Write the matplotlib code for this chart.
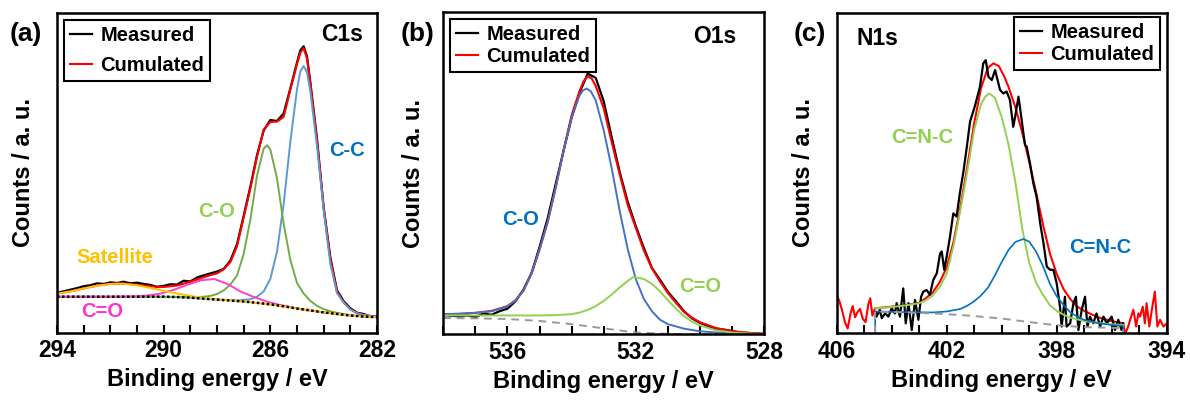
import numpy as np
import matplotlib
matplotlib.use('Agg')
from matplotlib import pyplot as plt
from matplotlib.ticker import MultipleLocator

plt.rcParams['font.family'] = ['Liberation Sans', 'DejaVu Sans']
plt.rcParams['font.weight'] = 'bold'
plt.rcParams['axes.labelweight'] = 'bold'

# ---------------- (a) C1s ----------------
c1s_meas_ev = [294.0, 293.75, 293.5, 293.25, 293.0, 292.75, 292.5, 292.25, 292.0, 291.75,
               291.5, 291.25, 291.0, 290.75, 290.5, 290.25, 290.0, 289.75, 289.5, 289.25,
               289.0, 288.75, 288.5, 288.25, 288.0, 287.75, 287.5, 287.25, 287.0, 286.75,
               286.5, 286.25, 286.0, 285.75, 285.5, 285.25, 285.0, 284.875, 284.75, 284.625,
               284.5, 284.25, 284.0, 283.75, 283.5, 283.25, 283.0, 282.75, 282.5, 282.25, 282.0]
c1s_meas = [12.4, 12.9, 13.4, 13.9, 14.5, 14.8, 15.4, 15.2, 15.7, 15.5,
            15.9, 15.4, 15.6, 15.2, 14.9, 14.3, 14.6, 15.1, 15.0, 16.2,
            16.0, 17.2, 17.9, 18.5, 19.1, 19.9, 22.5, 27.6, 36.5, 45.6,
            55.5, 63.2, 66.5, 66.2, 68.6, 76.4, 84.5, 88.3, 89.6, 86.4,
            78.3, 60.6, 39.0, 23.5, 13.2, 9.8, 7.6, 6.2, 5.8, 5.0, 5.0]

c1s_fit_ev = [294.0, 293.5, 293.0, 292.5, 292.0, 291.5, 291.0, 290.5, 290.0, 289.5,
              289.0, 288.75, 288.5, 288.25, 288.0, 287.75, 287.5, 287.25, 287.0, 286.75,
              286.5, 286.25, 286.0, 285.75, 285.5, 285.25, 285.0, 284.875, 284.75, 284.625,
              284.5, 284.25, 284.0, 283.75, 283.5, 283.25, 283.0, 282.75, 282.5, 282.25, 282.0]
c1s_cum = [12.2, 12.9, 13.8, 14.7, 15.25, 15.35, 14.95, 14.45, 14.25, 14.7,
           15.9, 16.6, 17.3, 17.95, 18.5, 19.8, 22.0, 27.0, 36.0, 45.0,
           55.0, 63.5, 65.9, 66.0, 67.5, 76.0, 84.0, 87.6, 89.0, 85.8,
           78.0, 60.0, 39.3, 23.0, 12.8, 9.5, 7.3, 6.1, 5.5, 5.2, 4.95]

c1s_bg_ev = [294.0, 293.0, 292.0, 291.0, 290.0, 289.5, 289.0, 288.5, 288.0, 287.5, 287.0,
             286.5, 286.0, 285.5, 285.0, 284.5, 284.0, 283.5, 283.0, 282.5, 282.0]
c1s_bg = [11.2, 11.2, 11.2, 11.2, 11.2, 11.1, 10.9, 10.6, 10.3, 10.0, 9.7,
          9.3, 8.8, 8.2, 7.5, 6.9, 6.3, 5.8, 5.3, 5.0, 4.8]

cc_ev = [294.0, 290.0, 289.0, 288.5, 287.75, 287.25, 286.75, 286.5, 286.25, 286.0,
         285.75, 285.5, 285.25, 285.0, 284.875, 284.75, 284.625, 284.5, 284.25, 284.0,
         283.75, 283.5, 283.25, 283.0, 282.75, 282.5, 282.25, 282.0]
cc = [11.2, 11.2, 10.9, 10.6, 10.2, 10.05, 10.4, 11.2, 12.85, 16.8,
      25.3, 40.2, 59.65, 76.1, 81.75, 83.4, 81.45, 75.5, 58.4, 38.3,
      21.5, 12.3, 9.35, 7.2, 6.05, 5.5, 5.2, 4.95]

co_ev = [294.0, 290.0, 289.25, 288.75, 288.5, 288.25, 288.0, 287.75, 287.5, 287.25,
         287.0, 286.75, 286.5, 286.25, 286.125, 286.0, 285.75, 285.5, 285.25, 285.0,
         284.75, 284.5, 284.25, 284.0, 283.75, 283.5, 283.0, 282.5, 282.0]
co = [11.2, 11.2, 11.15, 11.1, 11.2, 11.45, 12.05, 13.15, 15.0, 17.85,
      24.6, 35.3, 49.1, 57.55, 58.6, 57.3, 48.3, 34.0, 22.75, 15.5,
      12.2, 9.9, 8.35, 7.3, 6.65, 6.15, 5.45, 5.0, 4.8]

cdo_ev = [294.0, 292.0, 291.6, 291.1, 290.6, 290.1, 289.6, 289.1, 288.6, 288.1,
          287.6, 287.1, 286.6, 286.1, 285.6, 285.1, 284.5, 284.0, 283.0, 282.0]
cdo = [11.2, 11.2, 11.23, 11.31, 11.57, 12.22, 13.42, 14.98, 16.35, 16.75,
       15.17, 12.75, 11.06, 9.6, 8.56, 7.68, 6.9, 6.3, 5.3, 4.8]

sat_ev = [294.0, 293.5, 293.0, 292.5, 292.0, 291.7, 291.5, 291.0, 290.5, 290.0, 289.5,
          289.0, 288.5, 288.0, 287.5, 287.0, 286.0, 285.0, 284.0, 283.0, 282.0]
sat = [12.16, 12.88, 13.78, 14.64, 15.2, 15.3, 15.25, 14.78, 13.96, 13.06, 12.19,
       11.46, 10.85, 10.4, 10.03, 9.7, 8.8, 7.5, 6.3, 5.3, 4.8]

# ---------------- (b) O1s ----------------
o1s_meas_ev = [538.0, 537.75, 537.5, 537.25, 537.0, 536.75, 536.5, 536.25, 536.0, 535.75,
               535.5, 535.25, 535.0, 534.75, 534.5, 534.25, 534.0, 533.75, 533.5, 533.25,
               533.0, 532.75, 532.5, 532.25, 532.0, 531.75, 531.5, 531.25, 531.0, 530.75,
               530.5, 530.25, 530.0, 529.75, 529.5, 529.25, 529.0, 528.75, 528.5, 528.25, 528.0]
o1s_meas = [6.0, 5.8, 5.6, 5.9, 5.4, 6.5, 6.1, 7.2, 8.0, 10.3,
            13.9, 19.0, 27.1, 35.9, 46.5, 57.0, 67.2, 75.0, 80.8, 79.5,
            72.2, 61.0, 50.2, 41.0, 33.5, 26.8, 20.6, 17.0, 13.2, 10.3,
            7.2, 5.0, 3.6, 2.6, 1.8, 1.5, 1.1, 0.6, 0.5, 0.3, 0.2]

o1s_fit_ev = [538.0, 537.5, 537.0, 536.5, 536.0, 535.75, 535.5, 535.25, 535.0, 534.75,
              534.5, 534.25, 534.0, 533.75, 533.625, 533.5, 533.375, 533.25, 533.0, 532.75,
              532.5, 532.25, 532.0, 531.75, 531.5, 531.25, 531.0, 530.75, 530.5, 530.25,
              530.0, 529.5, 529.0, 528.5, 528.0]
o1s_cum = [6.3, 6.4, 6.7, 7.3, 8.8, 10.6, 13.7, 19.0, 26.4, 34.8,
           45.4, 57.1, 68.0, 75.5, 78.5, 80.0, 79.3, 77.0, 70.0, 59.5,
           49.5, 40.0, 33.0, 26.0, 20.5, 16.5, 12.8, 9.8, 7.0, 5.2,
           3.8, 2.0, 1.0, 0.5, 0.2]

o1s_co_ev = [538.0, 537.5, 537.0, 536.5, 536.0, 535.75, 535.5, 535.25, 535.0, 534.75,
             534.5, 534.25, 534.0, 533.75, 533.65, 533.53, 533.4, 533.25, 533.0, 532.75,
             532.5, 532.25, 532.0, 531.75, 531.5, 531.25, 531.0, 530.5, 530.0, 529.5,
             529.0, 528.5, 528.0]
o1s_co = [6.3, 6.4, 6.7, 7.2, 8.7, 10.5, 13.6, 18.9, 26.3, 34.7,
          45.3, 56.9, 67.3, 74.1, 75.6, 76.2, 75.3, 72.5, 63.2, 51.4,
          38.1, 26.3, 17.1, 11.0, 7.2, 4.6, 3.2, 1.8, 1.0, 0.6,
          0.35, 0.2, 0.1]

o1s_cdo_ev = [538.0, 537.0, 536.0, 535.0, 534.5, 534.0, 533.75, 533.5, 533.25, 533.0,
              532.75, 532.5, 532.25, 532.08, 531.75, 531.5, 531.25, 531.0, 530.75, 530.5,
              530.25, 530.0, 529.5, 529.0, 528.5, 528.0]
o1s_cdo = [5.9, 5.9, 5.9, 5.9, 6.0, 6.3, 6.8, 7.6, 8.8, 10.4,
           12.4, 14.6, 16.6, 17.8, 17.2, 15.7, 13.4, 10.6, 8.0, 5.7,
           4.0, 2.8, 1.3, 0.6, 0.3, 0.1]

o1s_bg_ev = [538.0, 537.0, 536.0, 535.0, 534.0, 533.0, 532.0, 531.0, 530.0, 529.0, 528.0]
o1s_bg = [5.1, 5.0, 4.8, 4.2, 3.2, 1.9, 0.6, 0.2, 0.0, 0.0, 0.0]

# ---------------- (c) N1s ----------------
n1s_meas_ev = [404.57, 404.55, 404.43, 404.36, 404.24, 404.12, 404.0, 403.88, 403.82, 403.7,
               403.58, 403.49, 403.39, 403.27, 403.15, 403.03, 402.93, 402.85, 402.73, 402.61,
               402.49, 402.36, 402.24, 402.18, 402.09, 402.0, 401.88, 401.76, 401.64, 401.52,
               401.39, 401.27, 401.15, 400.97, 400.79, 400.67, 400.58, 400.48, 400.36, 400.24,
               400.12, 400.06, 399.94, 399.82, 399.7, 399.58, 399.51, 399.39, 399.33, 399.21,
               399.15, 399.09, 398.97, 398.85, 398.73, 398.6, 398.48, 398.36, 398.24, 398.12,
               398.0, 397.88, 397.82, 397.7, 397.64, 397.51, 397.39, 397.3, 397.21, 397.09,
               396.97, 396.88, 396.79, 396.67, 396.55, 396.42, 396.3, 396.18, 396.0, 395.88,
               395.76, 395.64, 395.58]
n1s_meas = [6.5, 5.2, 7.3, 4.7, 6.2, 5.2, 7.8, 6.2, 9.4, 5.2,
            14.0, 3.1, 9.4, 1.0, 10.4, 4.2, 11.4, 13.0, 13.5, 12.0,
            16.6, 18.7, 24.9, 25.5, 19.8, 23.9, 30.1, 37.4, 36.4, 43.7,
            50.5, 58.0, 66.0, 71.0, 76.9, 84.2, 85.2, 80.0, 79.0, 82.1,
            78.0, 75.9, 74.8, 75.4, 72.8, 64.4, 67.6, 73.8, 70.2, 62.4,
            58.7, 58.2, 53.0, 46.8, 42.6, 34.3, 28.1, 20.8, 19.8, 19.8,
            15.6, 8.3, 2.1, 11.4, 2.1, 3.1, 9.4, 11.4, 1.0, 7.3,
            11.4, 2.1, 5.2, 3.1, 6.2, 2.1, 5.2, 3.1, 5.2, 1.0,
            4.2, 1.0, 3.1]

n1s_cum_ev = [406.0, 405.9, 405.8, 405.7, 405.6, 405.5, 405.42, 405.33, 405.25, 405.15,
              405.05, 404.95, 404.85, 404.78, 404.7, 404.62, 404.6, 404.0, 403.5, 403.0,
              402.75, 402.5, 402.25, 402.0, 401.75, 401.5, 401.25, 401.0, 400.75, 400.5,
              400.3, 400.1, 399.9, 399.75, 399.5, 399.25, 399.0, 398.75, 398.5, 398.25,
              398.0, 397.75, 397.5, 397.25, 397.0, 396.5, 396.0, 395.58, 395.55, 395.5,
              395.4, 395.3, 395.21, 395.11, 395.03, 394.97, 394.87, 394.79, 394.73, 394.63,
              394.54, 394.43, 394.34, 394.24, 394.12, 394.0]
n1s_cum = [11.9, 10.0, 7.0, 3.5, 1.5, 6.0, 8.5, 5.0, 6.5, 7.6,
           4.5, 3.5, 9.0, 10.9, 5.5, 7.6, 7.8, 8.3, 8.8, 9.5,
           11.0, 12.8, 16.0, 20.5, 28.5, 39.5, 52.0, 65.5, 76.5, 82.8,
           84.2, 83.3, 80.0, 76.8, 70.5, 62.5, 53.5, 44.0, 34.0, 25.0,
           18.5, 13.8, 10.6, 8.3, 7.0, 5.0, 3.8, 3.1, 1.5, 0.0,
           2.1, 5.0, 7.3, 2.1, 6.2, 5.2, 8.3, 3.1, 9.4, 2.1,
           7.3, 13.0, 2.1, 4.2, 2.1, 3.1]

n1s_g_ev = [404.6, 404.0, 403.5, 403.0, 402.75, 402.5, 402.25, 402.0, 401.75, 401.5,
            401.25, 401.0, 400.75, 400.6, 400.45, 400.25, 400.0, 399.75, 399.5, 399.25,
            399.0, 398.75, 398.5, 398.25, 398.0, 397.75, 397.5, 397.0, 396.5, 396.0, 395.58]
n1s_g = [7.8, 8.2, 8.7, 9.4, 10.3, 11.8, 14.5, 18.6, 27.3, 38.5,
         50.5, 63.5, 71.5, 73.8, 74.8, 73.5, 67.5, 58.8, 47.0, 32.5,
         22.0, 15.8, 12.0, 8.8, 7.0, 5.8, 4.9, 3.8, 3.2, 2.8, 2.6]

n1s_b_ev = [404.6, 404.6, 403.5, 402.5, 402.0, 401.5, 401.25, 401.0, 400.75, 400.5,
            400.25, 400.0, 399.75, 399.5, 399.21, 399.0, 398.75, 398.5, 398.25, 398.0,
            397.75, 397.5, 397.25, 397.0, 396.5, 396.0, 395.58, 395.58]
n1s_b = [0.0, 6.8, 6.6, 6.5, 6.8, 7.6, 8.6, 10.0, 11.8, 14.2,
         18.0, 22.2, 26.0, 28.5, 29.4, 28.6, 25.5, 21.0, 15.5, 11.6,
         8.8, 6.5, 5.2, 4.2, 3.2, 2.6, 2.3, 0.0]

n1s_bg_ev = [404.6, 404.6, 403.5, 402.5, 401.5, 400.5, 400.0, 399.0, 398.0, 397.0, 396.0, 395.58, 395.58]
n1s_bg = [0.0, 6.8, 6.5, 6.2, 5.7, 5.0, 4.6, 3.5, 2.5, 1.9, 1.7, 1.6, 0.0]

# グラフの初期化
fig = plt.figure(figsize=(11.9, 4.03), dpi=100)
ax_a = fig.add_axes([0.0479, 0.1749, 0.2689, 0.7928])
ax_b = fig.add_axes([0.3725, 0.1700, 0.2697, 0.8010])
ax_c = fig.add_axes([0.7031, 0.1730, 0.2773, 0.7955])


def style_axis(ax, xlim, ticks, ylab_x):
    ax.set_xlim(*xlim)
    ax.set_ylim(0, 100)
    ax.set_yticks([])
    ax.set_xticks(ticks)
    ax.xaxis.set_minor_locator(MultipleLocator(1))
    ax.tick_params(axis='x', which='both', direction='in', length=6, width=1.5,
                   labelsize=16.5, pad=5)
    for s in ['top', 'bottom', 'left', 'right']:
        ax.spines[s].set_linewidth(1.8)
    ax.set_xlabel('Binding energy / eV', fontsize=17, labelpad=4)
    ax.set_ylabel('Counts / a. u.', fontsize=17)
    ax.yaxis.set_label_coords(ylab_x, 0.5)


def add_legend(ax, h, anchor, loc, spacing):
    leg = ax.legend(handles=h, labels=['Measured', 'Cumulated'], loc=loc,
                    bbox_to_anchor=anchor, borderaxespad=0, fancybox=False,
                    edgecolor='black', framealpha=1, fontsize=14.5,
                    handlelength=1.1, handletextpad=0.4, borderpad=0.3,
                    labelspacing=spacing)
    leg.get_frame().set_linewidth(1.5)


# (a)
l1, = ax_a.plot(c1s_meas_ev, c1s_meas, color='black', lw=1.6)
l2, = ax_a.plot(c1s_fit_ev, c1s_cum, color='#FF0000', lw=1.5)
ax_a.plot(cc_ev, cc, color='#5B9BD5', lw=1.4)
ax_a.plot(co_ev, co, color='#70AD47', lw=1.4)
ax_a.plot(cdo_ev, cdo, color='#FF3FC8', lw=1.4)
ax_a.plot(sat_ev, sat, color='#FFC000', lw=1.4)
ax_a.plot(c1s_bg_ev, c1s_bg, color='black', lw=1.8, ls=(0, (1, 1)))
style_axis(ax_a, (294, 282), [294, 290, 286, 282], -0.069)
add_legend(ax_a, [l1, l2], (0.022, 0.978), 'upper left', 0.55)
ax_a.text(0.956, 0.934, 'C1s', transform=ax_a.transAxes, ha='right', va='center', fontsize=16.5)
ax_a.text(0.905, 0.571, 'C-C', transform=ax_a.transAxes, ha='center', va='center',
          fontsize=14.5, color='#0070C0')
ax_a.text(0.498, 0.380, 'C-O', transform=ax_a.transAxes, ha='center', va='center',
          fontsize=14.5, color='#92D050')
ax_a.text(0.180, 0.236, 'Satellite', transform=ax_a.transAxes, ha='center', va='center',
          fontsize=14.5, color='#FFC000')
ax_a.text(0.142, 0.067, 'C=O', transform=ax_a.transAxes, ha='center', va='center',
          fontsize=14.5, color='#FF33CC')

# (b)
l1, = ax_b.plot(o1s_meas_ev, o1s_meas, color='black', lw=1.6)
l2, = ax_b.plot(o1s_fit_ev, o1s_cum, color='#FF0000', lw=1.5)
ax_b.plot(o1s_co_ev, o1s_co, color='#4472C4', lw=1.4)
ax_b.plot(o1s_cdo_ev, o1s_cdo, color='#92D050', lw=1.4)
ax_b.plot(o1s_bg_ev, o1s_bg, color='#999999', lw=1.4, ls=(0, (4, 3)))
style_axis(ax_b, (538, 528), [536, 532, 528], -0.057)
add_legend(ax_b, [l1, l2], (0.021, 0.977), 'upper left', 0.15)
ax_b.text(0.914, 0.922, 'O1s', transform=ax_b.transAxes, ha='right', va='center', fontsize=16.5)
ax_b.text(0.242, 0.357, 'C-O', transform=ax_b.transAxes, ha='center', va='center',
          fontsize=14.5, color='#0070C0')
ax_b.text(0.800, 0.150, 'C=O', transform=ax_b.transAxes, ha='center', va='center',
          fontsize=14.5, color='#92D050')

# (c)
l2, = ax_c.plot(n1s_cum_ev, n1s_cum, color='#FF0000', lw=1.5)
l1, = ax_c.plot(n1s_meas_ev, n1s_meas, color='black', lw=1.6)
ax_c.plot(n1s_g_ev, n1s_g, color='#92D050', lw=1.4)
ax_c.plot(n1s_b_ev, n1s_b, color='#0070C0', lw=1.2)
ax_c.plot(n1s_bg_ev, n1s_bg, color='#999999', lw=1.4, ls=(0, (4, 3)))
style_axis(ax_c, (406, 394), [406, 402, 398, 394], -0.066)
add_legend(ax_c, [l1, l2], (0.98, 0.987), 'upper right', 0.15)
ax_c.text(0.061, 0.918, 'N1s', transform=ax_c.transAxes, ha='left', va='center', fontsize=16.5)
ax_c.text(0.258, 0.612, 'C=N-C', transform=ax_c.transAxes, ha='center', va='center',
          fontsize=14.5, color='#92D050')
ax_c.text(0.798, 0.269, 'C=N-C', transform=ax_c.transAxes, ha='center', va='center',
          fontsize=14.5, color='#0070C0')

# panel labels
fig.text(0.0218, 0.9156, '(a)', ha='center', va='center', fontsize=19)
fig.text(0.3508, 0.9156, '(b)', ha='center', va='center', fontsize=19)
fig.text(0.6807, 0.9156, '(c)', ha='center', va='center', fontsize=19)

plt.savefig('out.png', dpi=100)
